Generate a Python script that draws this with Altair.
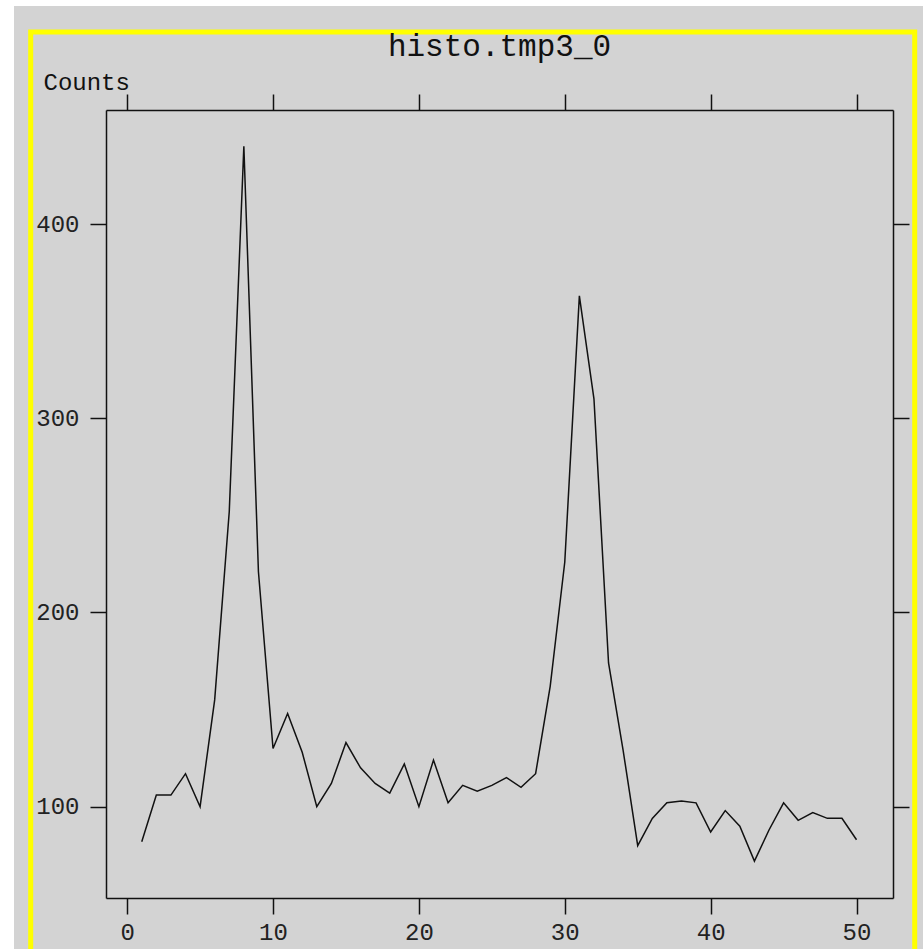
import altair as alt
import pandas as pd

# Histogram contents: bin centre and counts
bins = list(range(1, 51))
counts = [82, 106, 106, 117, 100, 155, 252, 440, 221, 130,
          148, 128, 100, 112, 133, 120, 112, 107, 122, 100,
          124, 102, 111, 108, 111, 115, 110, 117, 162, 226,
          363, 310, 174, 129, 80, 94, 102, 103, 102, 87,
          98, 90, 72, 88, 102, 93, 97, 94, 94, 83]

x_ticks = [0, 10, 20, 30, 40, 50]
y_ticks = [100, 200, 300, 400]
hist_name = "histo.tmp3_0"

df = pd.DataFrame({"bin": bins, "counts": counts})
one = pd.DataFrame({"k": [0]})

MONO = "Liberation Mono"
W, H = 787, 788
PAD_L, PAD_T = 106, 110

x_scale = alt.Scale(domain=[-1.45, 52.5], nice=False, zero=False)
y_scale = alt.Scale(domain=[53, 458.7], nice=False, zero=False)

common_axis = dict(
    grid=False,
    tickSize=16,
    tickWidth=1.5,
    tickColor="#111111",
    domainColor="#111111",
    domainWidth=1.5,
    labelFont=MONO,
    labelFontSize=24,
    labelColor="#222222",
    zindex=1,
)

x_bottom = alt.Axis(orient="bottom", values=x_ticks, title=None, labelPadding=6,
                    labelFlush=False, **common_axis)
x_top = alt.Axis(orient="top", values=x_ticks, title=None, labels=False, **common_axis)
y_left = alt.Axis(orient="left", values=y_ticks, title="Counts", labelPadding=11,
                  titleAngle=0, titleAlign="left", titleBaseline="middle",
                  titleX=-63, titleY=-28, titleFont=MONO, titleFontSize=24,
                  titleFontWeight="normal", titleColor="#111111",
                  labelFlush=False, **common_axis)
y_right = alt.Axis(orient="right", values=y_ticks, title=None, labels=False, **common_axis)

# white margin strips around the grey window
strip_left = alt.Chart(one).mark_rect(color="white").encode(
    x=alt.value(-PAD_L), x2=alt.value(14 - PAD_L),
    y=alt.value(-PAD_T), y2=alt.value(949 - PAD_T),
)
strip_top = alt.Chart(one).mark_rect(color="white").encode(
    x=alt.value(-PAD_L), x2=alt.value(923 - PAD_L),
    y=alt.value(-PAD_T), y2=alt.value(6 - PAD_T),
)

# yellow highlight frame around the canvas
frame = alt.Chart(one).mark_rect(fillOpacity=0, stroke="#ffff00", strokeWidth=5).encode(
    x=alt.value(30.7 - PAD_L), x2=alt.value(914.7 - PAD_L),
    y=alt.value(32 - PAD_T), y2=alt.value(975 - PAD_T),
)

# histogram name centred over the plot frame
heading = alt.Chart(one).mark_text(
    text=hist_name, font=MONO, fontSize=31, color="#111111",
    align="center", baseline="middle",
).encode(x=alt.value(W / 2), y=alt.value(47 - PAD_T))

line = alt.Chart(df).mark_line(color="#111111", strokeWidth=1.5).encode(
    x=alt.X("bin:Q", scale=x_scale, axis=x_bottom),
    y=alt.Y("counts:Q", scale=y_scale, axis=y_left),
)

# invisible copy that carries the top and right axes
mirror = alt.Chart(df).mark_line(strokeOpacity=0).encode(
    x=alt.X("bin:Q", scale=x_scale, axis=x_top),
    y=alt.Y("counts:Q", scale=y_scale, axis=y_right),
)

chart = (
    alt.layer(strip_left, strip_top, frame, heading, line, mirror)
    .resolve_axis(x="independent", y="independent")
    .properties(
        width=W,
        height=H,
        autosize=alt.AutoSizeParams(type="none"),
        padding={"left": PAD_L, "top": PAD_T, "right": 923 - PAD_L - W, "bottom": 949 - PAD_T - H},
        background="#d3d3d3",
    )
    .configure_view(stroke="transparent")
)

chart.save("out.html", embed_options={"renderer": "svg", "actions": False})
